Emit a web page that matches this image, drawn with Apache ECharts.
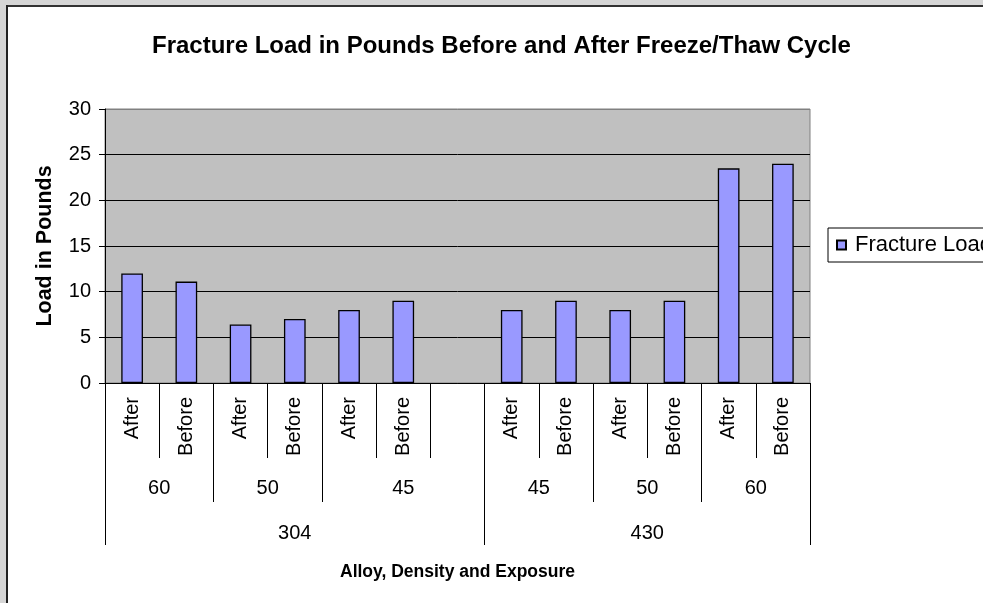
<!DOCTYPE html>
<html>
<head>
<meta charset="utf-8">
<script src="https://cdn.jsdelivr.net/npm/echarts@6/dist/echarts.min.js"></script>
<style>
html,body{margin:0;padding:0;background:#fff;}
#chart{width:983px;height:603px;}
</style>
</head>
<body>
<div id="chart"></div>
<script>
// ---- data ----
const exposureLabels = ['After','Before','After','Before','After','Before','','After','Before','After','Before','After','Before'];
const fractureLoad = [12, 11.1, 6.4, 7, 8, 9, null, 8, 9, 8, 9, 23.5, 24];
const densityLabels = ['60','50','45','45','50','60'];
const densitySpans = [2, 2, 3, 2, 2, 2];
const alloyLabels = ['304','430'];
const alloySpans = [7, 6];
const yTicks = [0, 5, 10, 15, 20, 25, 30];
const seriesName = 'Fracture Load';
const titleText = 'Fracture Load in Pounds Before and After Freeze/Thaw Cycle';
const xTitle = 'Alloy, Density and Exposure';
const yTitle = 'Load in Pounds';

// ---- build half-slot grouping axes ----
const nSlots = exposureLabels.length;
const nPts = nSlots * 2 + 1;
function buildGroup(labels, spans) {
  const data = new Array(nPts).fill('');
  const ticks = new Set([0]);
  let pos = 0;
  labels.forEach((l, i) => {
    const center = pos * 2 + spans[i];
    data[center] = l;
    pos += spans[i];
    ticks.add(pos * 2);
  });
  return {data, ticks};
}
const dens = buildGroup(densityLabels, densitySpans);
const alloy = buildGroup(alloyLabels, alloySpans);

const FONT = 'Liberation Sans, Arial, sans-serif';
const chart = echarts.init(document.getElementById('chart'));

function groupAxis(g, tickLen, margin) {
  return {
    type: 'category',
    position: 'bottom',
    gridIndex: 0,
    boundaryGap: false,
    data: g.data,
    axisLine: {show: false},
    axisTick: {show: true, length: tickLen, interval: (i) => g.ticks.has(i), lineStyle: {color: '#000', width: 1}},
    axisLabel: {show: true, interval: (i, v) => v !== '', margin: margin, color: '#000', fontSize: 20, fontFamily: FONT},
    splitLine: {show: false}
  };
}

chart.setOption({
  backgroundColor: '#ffffff',
  animation: false,
  title: {
    text: titleText,
    left: 147,
    top: 29,
    textStyle: {fontSize: 24, fontWeight: 'bold', color: '#000', fontFamily: FONT}
  },
  legend: {
    data: [seriesName],
    left: 828,
    top: 228,
    orient: 'vertical',
    padding: [6, 10, 6, 8],
    borderColor: '#000',
    borderWidth: 1,
    itemWidth: 9,
    itemHeight: 9,
    itemGap: 0,
    icon: 'rect',
    textStyle: {fontSize: 22, color: '#000', fontFamily: FONT, padding: [0, 0, 0, 4]}
  },
  grid: {
    left: 105, right: 173, top: 109, bottom: 220,
    show: true,
    backgroundColor: '#c0c0c0',
    borderColor: '#808080',
    borderWidth: 1
  },
  xAxis: [
    {
      type: 'category',
      position: 'bottom',
      data: exposureLabels,
      boundaryGap: true,
      axisLine: {show: true, lineStyle: {color: '#000', width: 1}},
      axisTick: {show: true, length: 75, interval: 0, lineStyle: {color: '#000', width: 1}},
      axisLabel: {interval: 0, rotate: 90, margin: 14, color: '#000', fontSize: 20, fontFamily: FONT},
      name: xTitle,
      nameLocation: 'middle',
      nameGap: 180,
      nameTextStyle: {fontSize: 17.5, fontWeight: 'bold', color: '#000', fontFamily: FONT}
    },
    groupAxis(dens, 119, 95),
    groupAxis(alloy, 162, 140)
  ],
  yAxis: {
    type: 'value',
    min: yTicks[0],
    max: yTicks[yTicks.length - 1],
    interval: yTicks[1] - yTicks[0],
    axisLine: {show: true, lineStyle: {color: '#000', width: 1}},
    axisTick: {show: true, length: 6, lineStyle: {color: '#000'}},
    axisLabel: {margin: 14, color: '#000', fontSize: 20, fontFamily: FONT},
    splitLine: {show: true, lineStyle: {color: ['#000','#000','#000','#000','#000','#000','#808080'], width: 1}},
    name: yTitle,
    nameLocation: 'middle',
    nameRotate: 90,
    nameGap: 49,
    nameTextStyle: {fontSize: 21.5, fontWeight: 'bold', color: '#000', fontFamily: FONT}
  },
  series: [{
    name: seriesName,
    type: 'bar',
    xAxisIndex: 0,
    data: fractureLoad,
    barWidth: '40%',
    itemStyle: {color: '#9999ff', borderColor: '#000', borderWidth: 1.3}
  }],
  graphic: [
    {type: 'rect', shape: {x: 0, y: 0, width: 983, height: 5}, style: {fill: '#d6d6d6'}, z: 100},
    {type: 'rect', shape: {x: 0, y: 0, width: 6, height: 603}, style: {fill: '#d6d6d6'}, z: 100},
    {type: 'rect', shape: {x: 6, y: 5, width: 977, height: 2}, style: {fill: '#333'}, z: 101},
    {type: 'rect', shape: {x: 6, y: 5, width: 2, height: 598}, style: {fill: '#222'}, z: 101}
  ]
});
</script>
</body>
</html>
